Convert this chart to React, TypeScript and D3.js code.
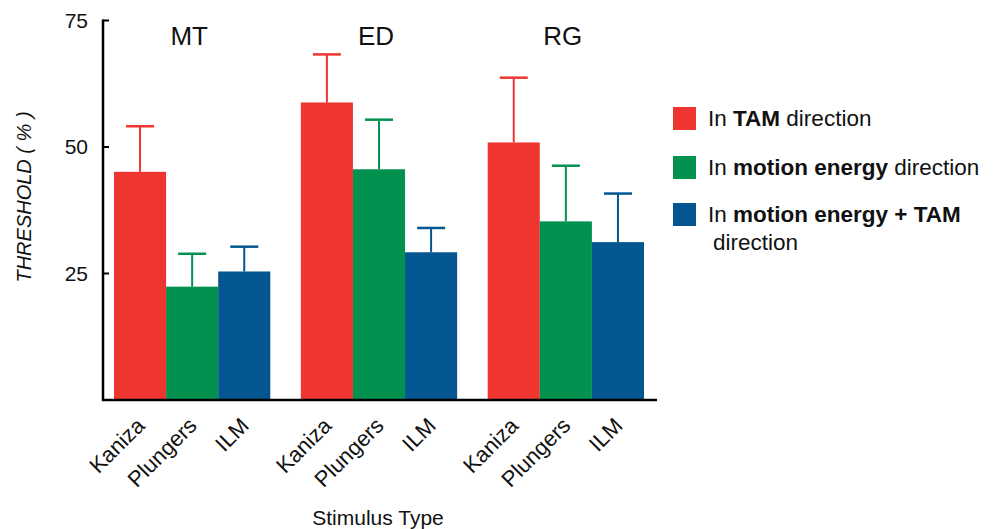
import React from "react";
import * as d3 from "d3";

const groups = ["MT", "ED", "RG"];
const stimuli = ["Kaniza", "Plungers", "ILM"];
const seriesNames = ["TAM", "motion energy", "motion energy + TAM"];
// means per group, in stimulus order
const means = [
  [45.1, 22.4, 25.4],
  [58.8, 45.6, 29.2],
  [50.9, 35.3, 31.2],
];
const errors = [
  [9.0, 6.5, 4.9],
  [9.5, 9.8, 4.8],
  [12.8, 11.0, 9.6],
];
const yTicks = [25, 50, 75];
const colors = ["#ef3530", "#02914f", "#03568f"];

const W = 997;
const H = 529;
const FONT = "'Liberation Sans', Arial, Helvetica, sans-serif";

export default function App() {
  const axisX = 103;
  const y = d3.scaleLinear().domain([0, 75]).range([400, 20.5]);
  const x0 = d3.scaleBand<string>().domain(groups).range([114, 644]).paddingInner(0.1635).paddingOuter(0);
  const x1 = d3.scaleBand<string>().domain(stimuli).range([0, x0.bandwidth()]).padding(0);
  const bw = x1.bandwidth();
  const capW = 28;

  return (
    <svg width={W} height={H} style={{ display: "block", position: "absolute", left: 0, top: 0 }} fontFamily={FONT}>
      <rect width={W} height={H} fill="#fff" />
      {groups.map((g, gi) => (
        <g key={g}>
          {stimuli.map((s, si) => {
            const bx = (x0(g) as number) + (x1(s) as number);
            const cx = bx + bw / 2;
            const v = means[gi][si];
            const e = errors[gi][si];
            const c = colors[si];
            return (
              <g key={s}>
                <line x1={cx} x2={cx} y1={y(v)} y2={y(v + e)} stroke={c} strokeWidth={2} />
                <line x1={cx - capW / 2} x2={cx + capW / 2} y1={y(v + e)} y2={y(v + e)} stroke={c} strokeWidth={2.5} />
                <rect x={bx} y={y(v)} width={bw} height={y(0) - y(v)} fill={c} />
                <text
                  transform={`translate(${cx + 6},${427}) rotate(-45)`}
                  textAnchor="end"
                  fontSize={22}
                  fill="#111"
                >
                  {s}
                </text>
              </g>
            );
          })}
          <text x={(x0(g) as number) + x0.bandwidth() / 2 - 3} y={45} textAnchor="middle" fontSize={26} fill="#111">
            {g}
          </text>
        </g>
      ))}
      {/* axes */}
      <line x1={axisX} x2={axisX} y1={y(75) - 1} y2={y(0) + 1} stroke="#000" strokeWidth={2.5} />
      <line x1={axisX - 1} x2={657} y1={y(0)} y2={y(0)} stroke="#000" strokeWidth={2.5} />
      {yTicks.map((t) => (
        <g key={t}>
          <line x1={axisX} x2={axisX + 6} y1={y(t)} y2={y(t)} stroke="#000" strokeWidth={2} />
          <text x={88} y={y(t)} dy="0.35em" textAnchor="end" fontSize={21} fill="#111">
            {t}
          </text>
        </g>
      ))}
      <text
        transform={`translate(${31},${197}) rotate(-90)`}
        textAnchor="middle"
        fontSize={20}
        fontStyle="italic"
        fill="#111"
      >
        THRESHOLD ( % )
      </text>
      <text x={378} y={525} textAnchor="middle" fontSize={21} fill="#111">
        Stimulus Type
      </text>
      {/* legend */}
      {seriesNames.map((n, i) => {
        const ly = [107, 156, 203][i];
        const wrap = i === 2;
        return (
          <g key={n}>
            <rect x={673} y={ly} width={23} height={23} fill={colors[i]} />
            <text x={708} y={ly + 19} fontSize={22.5} fill="#111">
              In <tspan fontWeight="bold">{n}</tspan>
              {wrap ? "" : " direction"}
            </text>
            {wrap && (
              <text x={713} y={ly + 47} fontSize={22.5} fill="#111">
                direction
              </text>
            )}
          </g>
        );
      })}
    </svg>
  );
}
